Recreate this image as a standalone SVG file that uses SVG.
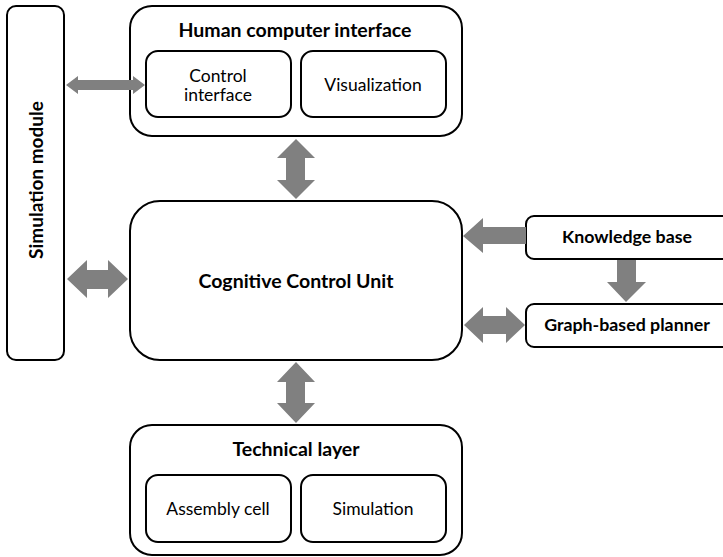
<svg xmlns="http://www.w3.org/2000/svg" width="723" height="557" viewBox="0 0 723 557">
<style>
.box{fill:#fff;stroke:#000;stroke-width:2}
.arr{fill:#808080;stroke:none}
text{font-family:Lato,"Open Sans","Liberation Sans",sans-serif;fill:#000;text-anchor:middle}
.b{font-weight:bold;font-size:19.5px}
.r{font-size:17.5px}
.s{font-weight:bold;font-size:17.8px}
</style>
<rect width="723" height="557" fill="#fff"/>
<g id="simulation-module">
<rect class="box" x="7" y="6" width="57" height="354" rx="9"/>
<text class="b" transform="translate(43,180) rotate(-90)" style="font-size:19px">Simulation module</text>
</g>
<g id="hci">
<rect class="box" x="130" y="6" width="332" height="130" rx="22"/>
<text class="b" x="295" y="37">Human computer interface</text>
</g>
<g id="control-interface">
<rect class="box" x="146" y="51" width="145" height="66" rx="12"/>
<text class="r" x="218" y="82">Control</text>
<text class="r" x="218" y="101">interface</text>
</g>
<g id="visualization">
<rect class="box" x="301" y="51" width="145" height="66" rx="12"/>
<text class="r" x="373" y="91">Visualization</text>
</g>
<g id="ccu">
<rect class="box" x="130" y="201" width="332" height="159" rx="30"/>
<text class="b" x="296" y="288">Cognitive Control Unit</text>
</g>
<g id="knowledge-base">
<rect class="box" x="526" y="216" width="204" height="43" rx="8"/>
<text class="s" x="627" y="243">Knowledge base</text>
</g>
<g id="graph-planner">
<rect class="box" x="526" y="304" width="204" height="43" rx="8"/>
<text class="s" x="627" y="331">Graph-based planner</text>
</g>
<g id="technical-layer">
<rect class="box" x="130" y="425" width="332" height="130" rx="22"/>
<text class="b" x="296" y="456">Technical layer</text>
</g>
<g id="assembly-cell">
<rect class="box" x="146" y="475" width="145" height="67" rx="12"/>
<text class="r" x="218" y="515">Assembly cell</text>
</g>
<g id="simulation">
<rect class="box" x="301" y="475" width="145" height="67" rx="12"/>
<text class="r" x="373" y="515">Simulation</text>
</g>
<g id="connectors">
<polygon class="arr" points="66,85 78,76 78,80 133,80 133,76 145,85 133,94 133,90 78,90 78,94"/>
<polygon class="arr" points="296,139 315,158 305,158 305,180 315,180 296,199 277,180 286,180 286,158 277,158"/>
<polygon class="arr" points="67,279 87,260 87,270 108,270 108,260 128,279 108,298 108,289 87,289 87,298"/>
<polygon class="arr" points="463,236 483,218 483,227 526,227 526,244 483,244 483,253"/>
<polygon class="arr" points="617,260 636,260 636,282 646,282 626,302 607,282 617,282"/>
<polygon class="arr" points="464,325 483,307 483,316 506,316 506,307 525,325 506,343 506,334 483,334 483,343"/>
<polygon class="arr" points="296,362 315,382 305,382 305,403 315,403 296,423 277,403 286,403 286,382 277,382"/>
</g>
</svg>
